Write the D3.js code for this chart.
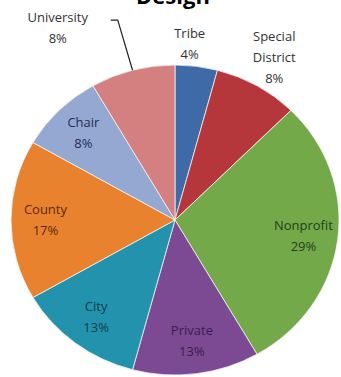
<!DOCTYPE html>
<html>
<head>
<meta charset="utf-8">
<script src="https://cdn.jsdelivr.net/npm/d3@7"></script>
<style>
  body { margin: 0; background: #fff; }
  svg { display: block; font-family: "Open Sans", "Noto Sans", sans-serif; }
</style>
</head>
<body>
<script>
// counts per sector (labels show rounded share)
const categories = ["Tribe", "Special District", "Nonprofit", "Private", "City", "County", "Chair", "University"];
const counts = [1, 2, 7, 3, 3, 4, 2, 2];
const title = "Design";

const baseWidth = 341,
  baseHeight = 377;

const cx = 175,
  cy = 220,
  ry = 155,
  rx = 164;

const colors = ["#3e6aa8", "#b5373b", "#74a94a", "#7b4a93", "#2393ad", "#e8822e", "#95a8d2", "#d47f80"];
const textColors = ["#333333", "#333333", "#24401a", "#3a1d4c", "#0f3e4c", "#5a2a08", "#1f2e55", "#333333"];

// label placement: radius as fraction of pie radius, angle offset in degrees
const labelPos = {
  "Tribe": { r: 1.14, da: -3 },
  "Special District": { r: 1.21, da: 0 },
  "University": { r: 1.43, da: -15 },
};
const innerR = 0.79;

const data = categories.map((c, i) => ({ name: c, value: counts[i], i: i }));
const total = d3.sum(counts);

const svg = d3
  .select("body")
  .append("svg")
  .attr("width", baseWidth)
  .attr("height", baseHeight);

svg
  .append("text")
  .attr("x", 173)
  .attr("y", 4)
  .attr("text-anchor", "middle")
  .style("font-weight", "bold")
  .style("font-size", "22px")
  .attr("fill", "#000")
  .text(title);

const pie = d3.pie().sort(null).value((d) => d.value);
const arcs = pie(data);
const arc = d3.arc().innerRadius(0).outerRadius(ry);

const pieG = svg
  .append("g")
  .attr("transform", "translate(" + cx + "," + cy + ") scale(" + rx / ry + ",1)");

pieG
  .selectAll("path")
  .data(arcs)
  .enter()
  .append("path")
  .attr("d", arc)
  .attr("fill", (d) => colors[d.data.i])
  .attr("stroke", "#f2f2f2")
  .attr("stroke-width", 0.8)
  .attr("vector-effect", "non-scaling-stroke");

function polar(angle, r) {
  return [cx + rx * r * Math.sin(angle), cy - ry * r * Math.cos(angle)];
}

const lines = {
  "Special District": ["Special", "District"],
};

const labels = svg
  .selectAll(".lbl")
  .data(arcs)
  .enter()
  .append("text")
  .attr("class", "lbl")
  .attr("text-anchor", "middle")
  .style("font-size", "13px")
  .attr("fill", (d) => textColors[d.data.i])
  .each(function (d) {
    const mid = (d.startAngle + d.endAngle) / 2;
    const lp = labelPos[d.data.name];
    const ang = lp ? mid + (lp.da * Math.PI) / 180 : mid;
    const [x, y] = polar(ang, lp ? lp.r : innerR);
    const parts = (lines[d.data.name] || [d.data.name]).concat([Math.round((100 * d.data.value) / total) + "%"]);
    const t = d3.select(this);
    const y0 = y - ((parts.length - 1) * 21) / 2;
    parts.forEach((p, k) => {
      t.append("tspan")
        .attr("x", x)
        .attr("y", y0 + k * 21)
        .attr("dy", "0.35em")
        .text(p);
    });
    d.labelXY = [x, y];
  });

// leader line for University
const uni = arcs.find((d) => d.data.name === "University");
const uniMid = (uni.startAngle + uni.endAngle) / 2;
const edge = polar(uniMid, 1.0);
const lx = uni.labelXY[0] + 53,
  ly = uni.labelXY[1] - 8;
svg
  .append("path")
  .attr("d", "M" + lx + "," + ly + "L" + (lx + 7) + "," + ly + "L" + edge[0] + "," + edge[1])
  .attr("fill", "none")
  .attr("stroke", "#222")
  .attr("stroke-width", 1.2);
</script>
</body>
</html>
